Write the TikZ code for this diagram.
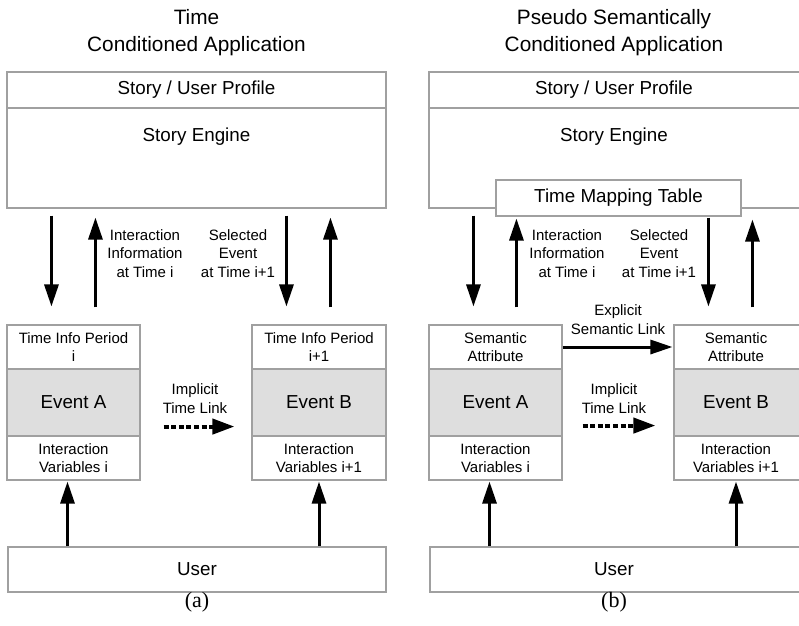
\documentclass[tikz,border=0pt]{standalone}
\usepackage{fontspec}
\setmainfont{Liberation Sans}
\newfontfamily\capfont{Liberation Serif}
\usetikzlibrary{arrows.meta,calc}
\definecolor{boxline}{HTML}{A0A0A0}
\definecolor{eventfill}{HTML}{DEDEDE}
\tikzset{
  panelbox/.style={draw=boxline, line width=1.1pt, rectangle, inner sep=0pt},
  txt/.style={align=center, inner sep=0pt, font=\fontsize{15}{18.5}\selectfont},
  bigtxt/.style={align=center, inner sep=0pt, font=\fontsize{18.8}{22}\selectfont},
  titletxt/.style={align=center, inner sep=0pt, font=\fontsize{20.8}{27}\selectfont},
  captxt/.style={inner sep=0pt, font=\capfont\fontsize{22}{26}\selectfont},
  arr/.style={line width=3pt, -{Triangle[length=22pt,width=14pt]}},
  dasharr/.style={line width=4pt, dash pattern=on 5pt off 2.6pt, -{Triangle[length=22pt,width=15pt]}},
}
\begin{document}
\begin{tikzpicture}[x=1pt,y=-1pt]
\useasboundingbox (0,0) rectangle (799,625);

% ---------------- panel (a) : time conditioned ----------------
\node[titletxt] (titleL) at (196.5,33) {Time\\Conditioned Application};
\node[panelbox, minimum width=379pt, minimum height=36pt] (profL) at (196.5,90) {};
\node[bigtxt] at (profL.center) {Story / User Profile};
\node[panelbox, minimum width=379pt, minimum height=100pt] (engL) at (196.5,158) {};
\node[bigtxt] (engLtxt) at (196.5,137) {Story Engine};

% event A
\node[panelbox, minimum width=133pt, minimum height=44pt] (infoA) at (73.5,347) {};
\node[txt] at (infoA.center) {Time Info Period\\i};
\node[panelbox, fill=eventfill, minimum width=133pt, minimum height=67pt] (evA) at (73.5,402.5) {};
\node[bigtxt] at (evA.center) {Event A};
\node[panelbox, minimum width=133pt, minimum height=44pt] (varA) at (73.5,458) {};
\node[txt] at (varA.center) {Interaction\\Variables i};

% event B
\node[panelbox, minimum width=134pt, minimum height=44pt] (infoB) at (319,347) {};
\node[txt] at (infoB.center) {Time Info Period\\i+1};
\node[panelbox, fill=eventfill, minimum width=134pt, minimum height=67pt] (evB) at (319,402.5) {};
\node[bigtxt] at (evB.center) {Event B};
\node[panelbox, minimum width=134pt, minimum height=44pt] (varB) at (319,458) {};
\node[txt] at (varB.center) {Interaction\\Variables i+1};

\node[panelbox, minimum width=378pt, minimum height=45pt] (userL) at (197,569.5) {};
\node[bigtxt] at (userL.center) {User};
\node[captxt] (capA) at (197,602) {(a)};

% labels between engine and events
\node[txt] (infoLblL) at (145,253.5) {Interaction\\Information\\at Time i};
\node[txt] (selLblL) at (238,253.5) {Selected\\Event\\at Time i+1};
\node[txt] (implL) at (195,398.5) {Implicit\\Time Link};

% vertical arrows
\coordinate (dA) at ([xshift=45pt]infoA.north west);
\coordinate (uA) at ([xshift=89pt]infoA.north west);
\coordinate (dB) at ([xshift=35pt]infoB.north west);
\coordinate (uB) at ([xshift=79pt]infoB.north west);
\draw[arr, shorten <=7pt, shorten >=18pt] (engL.south -| dA) -- (dA);
\draw[arr, shorten <=17pt, shorten >=9pt] (uA) -- (engL.south -| uA);
\draw[arr, shorten <=7pt, shorten >=18pt] (engL.south -| dB) -- (dB);
\draw[arr, shorten <=17pt, shorten >=9pt] (uB) -- (engL.south -| uB);

\coordinate (vA) at ([xshift=-6pt]varA.south);
\draw[arr, shorten <=0pt, shorten >=1pt] (userL.north -| vA) -- (vA);
\draw[arr, shorten <=0pt, shorten >=1pt] (userL.north -| varB.south) -- (varB.south);

% implicit time link
\coordinate (tlA) at ([xshift=23pt]evA.south east);
\coordinate (tlB) at ([xshift=-17pt]evB.south west);
\draw[dasharr] ($(tlA)+(0,-10)$) -- ($(tlB)+(0,-10)$);

% ---------------- panel (b) : pseudo semantically conditioned ----------------
\node[titletxt] (titleR) at (614,33) {Pseudo Semantically\\Conditioned Application};
\node[panelbox, minimum width=379pt, minimum height=36pt] (profR) at (618.5,90) {};
\node[bigtxt] at (614,90) {Story / User Profile};
\node[panelbox, minimum width=379pt, minimum height=100pt] (engR) at (618.5,158) {};
\node[bigtxt] (engRtxt) at (614,137) {Story Engine};
\node[panelbox, fill=white, minimum width=245pt, minimum height=36pt] (tmt) at (618.5,198) {};
\node[bigtxt] at (tmt.center) {Time Mapping Table};

% event A
\node[panelbox, minimum width=133pt, minimum height=44pt] (semA) at (495.5,347) {};
\node[txt] at (semA.center) {Semantic\\Attribute};
\node[panelbox, fill=eventfill, minimum width=133pt, minimum height=67pt] (evRA) at (495.5,402.5) {};
\node[bigtxt] at (evRA.center) {Event A};
\node[panelbox, minimum width=133pt, minimum height=44pt] (varRA) at (495.5,458) {};
\node[txt] at (varRA.center) {Interaction\\Variables i};

% event B
\node[panelbox, minimum width=134pt, minimum height=44pt] (semB) at (741,347) {};
\node[txt] at (736,347) {Semantic\\Attribute};
\node[panelbox, fill=eventfill, minimum width=134pt, minimum height=67pt] (evRB) at (741,402.5) {};
\node[bigtxt] at (736,402.5) {Event B};
\node[panelbox, minimum width=134pt, minimum height=44pt] (varRB) at (741,458) {};
\node[txt] at (736,458) {Interaction\\Variables i+1};

\node[panelbox, minimum width=378pt, minimum height=45pt] (userR) at (619,569.5) {};
\node[bigtxt] at (614,569.5) {User};
\node[captxt] (capB) at (614,602) {(b)};

% labels
\node[txt] (infoLblR) at (567,253.5) {Interaction\\Information\\at Time i};
\node[txt] (selLblR) at (659,253.5) {Selected\\Event\\at Time i+1};
\node[txt] (implR) at (614,398.5) {Implicit\\Time Link};
\node[txt] (explR) at (618,319.5) {Explicit\\Semantic Link};

% vertical arrows
\coordinate (dRA) at ([xshift=45pt]semA.north west);
\coordinate (uRA) at ([xshift=88pt]semA.north west);
\coordinate (dRB) at ([xshift=35pt]semB.north west);
\coordinate (uRB) at ([xshift=79pt]semB.north west);
\draw[arr, shorten <=7pt, shorten >=18pt] (engR.south -| dRA) -- (dRA);
\draw[arr, shorten <=17pt, shorten >=2pt] (uRA) -- (tmt.south -| uRA);
\draw[arr, shorten <=1pt, shorten >=18pt] (tmt.south -| dRB) -- (dRB);
\draw[arr, shorten <=17pt, shorten >=11pt] (uRB) -- (engR.south -| uRB);

\coordinate (vRA) at ([xshift=-6pt]varRA.south);
\coordinate (vRB) at ([xshift=-5pt]varRB.south);
\draw[arr, shorten <=0pt, shorten >=1pt] (userR.north -| vRA) -- (vRA);
\draw[arr, shorten <=0pt, shorten >=1pt] (userR.north -| vRB) -- (vRB);

% explicit semantic link
\draw[arr, shorten >=1pt] (semA.east) -- (semB.west);

% implicit time link
\coordinate (tlRA) at ([xshift=20pt]evRA.south east);
\coordinate (tlRB) at ([xshift=-18pt]evRB.south west);
\draw[dasharr] ($(tlRA)+(0,-11)$) -- ($(tlRB)+(0,-11)$);
\end{tikzpicture}
\end{document}
